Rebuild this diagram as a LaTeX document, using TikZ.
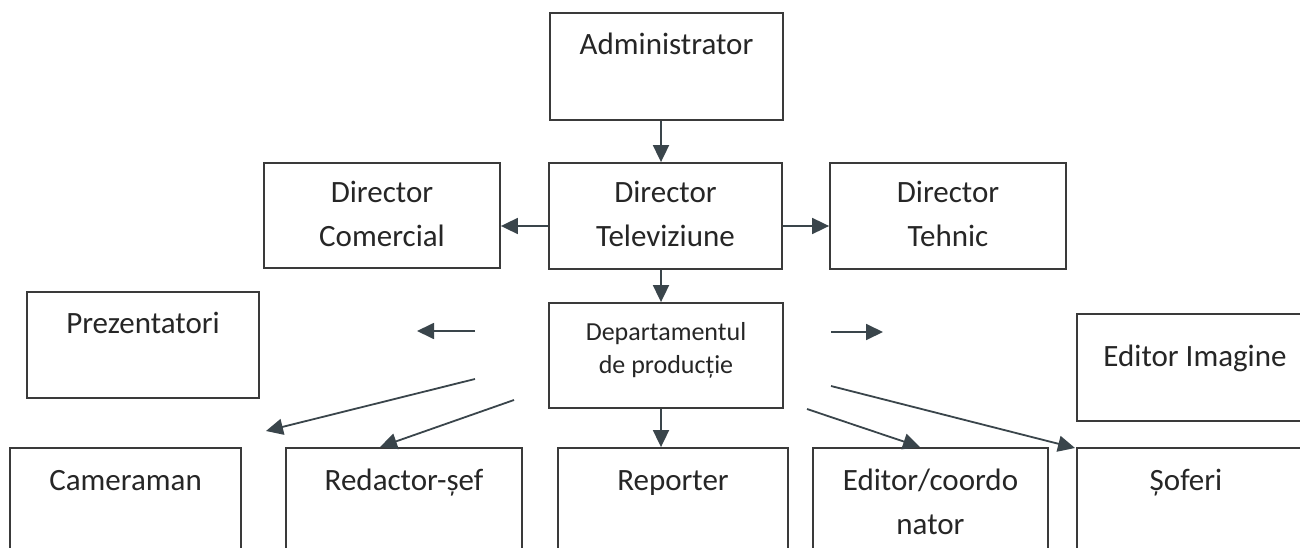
\documentclass[tikz,border=0pt]{standalone}
\usepackage{fontspec}
\setmainfont{Carlito}
\usetikzlibrary{arrows.meta}
\definecolor{ln}{HTML}{3A3A3A}
\definecolor{ar}{HTML}{3A454B}
\definecolor{tx}{HTML}{262626}
\begin{document}
\begin{tikzpicture}[x=1pt,y=-1pt,
  box/.style={draw=ln, line width=1.8pt, inner sep=0pt, rectangle},
  lbl/.style={text=tx, anchor=base, align=center, inner sep=0pt, font=\fontsize{31}{44}\selectfont},
  lbls/.style={text=tx, anchor=base, align=center, inner sep=0pt, font=\fontsize{26}{33}\selectfont},
  arr/.style={draw=ar, line width=1.8pt, -{Triangle[length=17pt,width=16pt]}, fill=none}
]
\useasboundingbox (0,0) rectangle (1300,548);
\clip (0,0) rectangle (1300,548);
\fill[white] (0,0) rectangle (1300,548);

% boxes
\node[box, minimum width=233pt, minimum height=107pt] (admin) at (666.5,66.5) {};
\node[box, minimum width=236pt, minimum height=105pt] (dircom) at (382,215.5) {};
\node[box, minimum width=233pt, minimum height=106pt] (dirtv) at (665.5,216) {};
\node[box, minimum width=236pt, minimum height=106pt] (dirteh) at (948,216) {};
\node[box, minimum width=234pt, minimum height=105pt] (dept) at (666,355.5) {};
\node[box, minimum width=232pt, minimum height=106pt] (prez) at (143,345) {};
\node[box, minimum width=235pt, minimum height=107pt] (edimg) at (1194.5,367.5) {};
\node[box, minimum width=231pt, minimum height=108pt] (cam) at (125.5,502) {};
\node[box, minimum width=236pt, minimum height=108pt] (red) at (404,502) {};
\node[box, minimum width=230pt, minimum height=108pt] (rep) at (673,502) {};
\node[box, minimum width=235pt, minimum height=108pt] (edc) at (930.5,502) {};
\node[box, minimum width=235pt, minimum height=108pt] (sof) at (1194.5,502) {};

% texts (anchor=base is the baseline of the last line)
\node[lbl] (admin-t) at (666.5,55) {Administrator};
\node[lbl] (dircom-t) at (382,246) {Director\\Comercial};
\node[lbl] (dirtv-t) at (665.5,246) {Director\\Televiziune};
\node[lbl] (dirteh-t) at (948,246) {Director\\Tehnic};
\node[lbls] (dept-t) at (666,373) {Departamentul\\de producție};
\node[lbl] (prez-t) at (143,333) {Prezentatori};
\node[lbl] (edimg-t) at (1195,366) {Editor Imagine};
\node[lbl] (cam-t) at (125.5,490) {Cameraman};
\node[lbl] (red-t) at (404,490) {Redactor-șef};
\node[lbl] (rep-t) at (673,490) {Reporter};
\node[lbl] (edc-t) at (930.5,534) {Editor/coordo\\nator};
\node[lbl] (sof-t) at (1186,490) {Șoferi};

% free ends and guide coordinates
\coordinate (xa) at (661,0);
\coordinate (ya) at (0,226);
\coordinate (fl1) at (475,331);
\coordinate (fl2) at (417,331);
\coordinate (fr1) at (831,332);
\coordinate (fr2) at (883,332);
\coordinate (d1a) at (475,379);
\coordinate (d1b) at (266,431);
\coordinate (d2a) at (514,400);
\coordinate (d2b) at (380,447);
\coordinate (d3a) at (807,409);
\coordinate (d3b) at (920,447);
\coordinate (d4a) at (831,386);
\coordinate (d4b) at (1075,448);

% connectors
\draw[arr] (admin.south -| xa) -- (dirtv.north -| xa);
\draw[arr] (dirtv.west |- ya) -- (dircom.east |- ya);
\draw[arr] (dirtv.east |- ya) -- (dirteh.west |- ya);
\draw[arr] (dirtv.south -| xa) -- (dept.north -| xa);
\draw[arr] (dept.south -| xa) -- (rep.north -| xa);
\draw[arr] (fl1) -- (fl2);
\draw[arr] (fr1) -- (fr2);
\draw[arr] (d1a) -- (d1b);
\draw[arr] (d2a) -- (d2b);
\draw[arr] (d3a) -- (d3b);
\draw[arr] (d4a) -- (d4b);
\end{tikzpicture}
\end{document}
